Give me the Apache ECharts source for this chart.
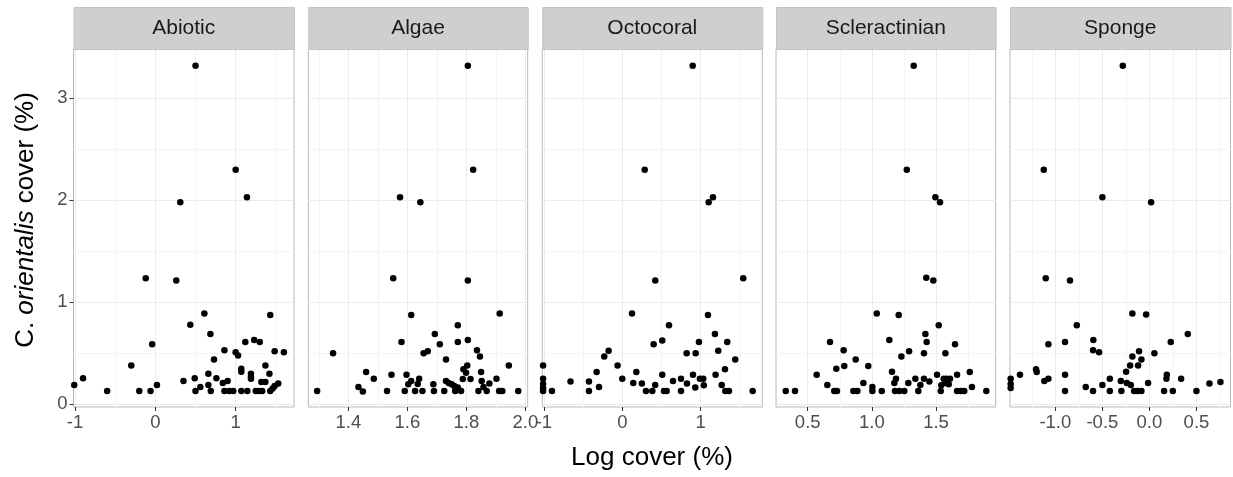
<!DOCTYPE html>
<html>
<head>
<meta charset="utf-8">
<script src="https://cdn.jsdelivr.net/npm/echarts@6/dist/echarts.min.js"></script>
<style>
html,body{margin:0;padding:0;background:#fff;}
#chart{width:1233px;height:477px;}
</style>
</head>
<body>
<div id="chart"></div>
<script>
// ---- data ----
const panels = ['Abiotic', 'Algae', 'Octocoral', 'Scleractinian', 'Sponge'];

const abioticX = [0.50,1.00,1.14,0.31,-0.12,0.26,0.61,1.43,0.435,0.685,-0.04,1.12,1.23,1.30,0.86,1.00,1.03,1.485,1.60,0.73,-0.30,1.37,1.07,1.07,1.19,1.19,1.19,1.42,0.66,-0.90,0.35,0.49,0.76,0.84,0.90,1.32,1.37,-1.01,0.02,0.56,0.66,1.53,1.485,1.46,-0.60,-0.20,-0.06,0.50,0.69,0.86,0.92,0.97,1.07,1.145,1.25,1.29,1.33,1.43];
const abioticY = [3.32,2.30,2.03,1.98,1.235,1.215,0.89,0.875,0.78,0.69,0.59,0.61,0.63,0.61,0.53,0.51,0.48,0.52,0.51,0.44,0.38,0.38,0.35,0.32,0.30,0.27,0.25,0.30,0.30,0.255,0.23,0.255,0.255,0.21,0.23,0.22,0.22,0.19,0.19,0.17,0.19,0.205,0.18,0.155,0.13,0.13,0.13,0.13,0.13,0.13,0.13,0.13,0.13,0.13,0.13,0.13,0.13,0.13];

const algaeX = [1.805,1.823,1.575,1.644,1.552,1.805,1.613,1.913,1.771,1.693,1.71,1.58,1.771,1.805,1.348,1.655,1.669,1.836,1.846,1.731,1.944,1.803,1.79,1.799,1.788,1.814,1.46,1.486,1.546,1.597,1.85,1.902,1.434,1.449,1.294,1.531,1.591,1.603,1.613,1.64,1.635,1.626,1.651,1.688,1.69,1.725,1.731,1.74,1.75,1.759,1.771,1.762,1.782,1.841,1.852,1.858,1.869,1.878,1.911,1.922,1.976];
const algaeY = [3.32,2.30,2.03,1.98,1.235,1.215,0.875,0.89,0.775,0.69,0.59,0.61,0.61,0.63,0.50,0.50,0.52,0.53,0.47,0.44,0.38,0.38,0.343,0.31,0.248,0.248,0.317,0.25,0.29,0.29,0.317,0.25,0.17,0.127,0.13,0.13,0.13,0.196,0.228,0.25,0.2,0.13,0.13,0.196,0.13,0.13,0.228,0.21,0.196,0.18,0.164,0.13,0.13,0.13,0.228,0.17,0.13,0.205,0.13,0.13,0.13];

const octocoralX = [0.898,0.286,1.157,1.102,0.421,1.543,0.124,1.093,0.596,1.182,0.40,0.51,0.978,1.339,-0.174,-0.23,0.821,0.936,1.224,1.441,-0.06,1.31,-1.01,-0.327,0.179,0.51,0.902,1.19,-1.01,-1.01,-1.01,-1.01,-0.66,-0.425,0.0,0.14,0.25,0.42,0.647,0.749,0.825,0.99,1.033,1.04,0.931,1.268,-0.897,-0.425,-0.297,0.302,0.383,0.532,0.566,0.749,1.314,1.361,1.663];
const octocoralY = [3.32,2.30,2.03,1.98,1.215,1.235,0.89,0.875,0.775,0.69,0.59,0.627,0.61,0.61,0.525,0.47,0.50,0.50,0.525,0.44,0.38,0.345,0.38,0.317,0.317,0.29,0.29,0.29,0.25,0.2,0.16,0.13,0.225,0.225,0.25,0.21,0.205,0.19,0.23,0.25,0.205,0.25,0.25,0.186,0.164,0.19,0.13,0.13,0.17,0.13,0.13,0.13,0.13,0.13,0.13,0.13,0.13];

const scleractinianX = [1.326,1.272,1.495,1.531,1.424,1.479,1.038,1.209,1.521,1.417,0.674,1.136,1.427,1.648,0.78,1.29,1.406,1.573,0.874,1.23,0.785,0.723,0.972,0.57,1.157,1.188,1.175,1.284,1.339,1.406,1.448,1.508,1.56,1.583,1.609,1.57,1.599,1.664,1.763,0.934,0.653,1.004,1.378,1.541,1.78,0.329,0.401,0.707,0.728,0.856,0.887,1.004,1.077,1.18,1.214,1.253,1.362,1.537,1.664,1.695,1.72,1.892];
const scleractinianY = [3.32,2.30,2.03,1.98,1.24,1.215,0.89,0.875,0.775,0.69,0.61,0.63,0.61,0.59,0.53,0.52,0.50,0.50,0.44,0.47,0.375,0.35,0.375,0.29,0.32,0.25,0.21,0.21,0.25,0.25,0.225,0.29,0.25,0.25,0.25,0.21,0.196,0.29,0.317,0.21,0.19,0.17,0.19,0.186,0.17,0.13,0.13,0.13,0.13,0.13,0.13,0.13,0.13,0.13,0.13,0.13,0.13,0.13,0.13,0.13,0.13,0.13];

const spongeX = [-0.283,-1.123,-0.50,0.018,-1.102,-0.844,-0.181,-0.035,-0.772,0.408,-1.074,-0.897,-0.596,0.227,-0.599,-0.535,-0.11,-0.181,-0.085,0.053,-0.205,-0.12,-0.248,-1.205,-1.198,-1.376,-0.897,0.185,0.181,0.337,-0.421,-1.074,-1.117,-1.475,-1.475,-1.475,-0.304,-0.24,-0.198,-0.014,-0.50,-0.677,0.638,0.755,-0.897,-0.599,-0.421,-0.298,-0.163,-0.127,-0.085,0.156,0.249,0.5];
const spongeY = [3.32,2.30,2.03,1.98,1.235,1.215,0.89,0.88,0.775,0.69,0.59,0.61,0.63,0.61,0.53,0.51,0.52,0.47,0.44,0.50,0.38,0.38,0.32,0.345,0.317,0.29,0.29,0.29,0.25,0.25,0.25,0.25,0.23,0.25,0.2,0.16,0.23,0.21,0.19,0.21,0.19,0.17,0.205,0.22,0.13,0.13,0.13,0.13,0.13,0.13,0.13,0.13,0.13,0.13];

const panelX = [abioticX, algaeX, octocoralX, scleractinianX, spongeX];
const panelY = [abioticY, algaeY, octocoralY, scleractinianY, spongeY];

// tick positions and labels
const xMajorTicks = [[-1,0,1],[1.4,1.6,1.8,2.0],[-1,0,1],[0.5,1.0,1.5],[-1.0,-0.5,0.0,0.5]];
const xTickLabels = [['-1','0','1'],['1.4','1.6','1.8','2.0'],['-1','0','1'],['0.5','1.0','1.5'],['-1.0','-0.5','0.0','0.5']];
const xMinorTicks = [[-0.5,0.5,1.5],[1.3,1.5,1.7,1.9],[-0.5,0.5,1.5],[0.75,1.25,1.75],[-1.25,-0.75,-0.25,0.25,0.75]];
const xLimits = [[-1.019,1.726],[1.264,2.008],[-1.02,1.786],[0.253,1.965],[-1.482,0.862]];
const yMajorTicks = [0,1,2,3];
const yTickLabels = ['0','1','2','3'];
const yMinorTicks = [0.5,1.5,2.5];
const yLimits = [-0.026,3.483];

const xTitle = 'Log cover (%)';

// ---- layout ----
const FONT = '"Liberation Sans", Arial, sans-serif';
const gridLeft = [73.5, 308.3, 542.3, 776, 1010];
const gridWidth = [220.5, 219.4, 220, 219.7, 220.5];
const gridTop = 49, gridHeight = 358;

const chart = echarts.init(document.getElementById('chart'), null, {renderer: 'canvas'});

const grids = [], xAxes = [], yAxes = [], series = [], graphics = [];
panels.forEach((name, i) => {
  grids.push({left: gridLeft[i], top: gridTop, width: gridWidth[i], height: gridHeight,
    show: true, borderColor: '#b8b8b8', borderWidth: 1, backgroundColor: '#ffffff', z: 0});
  // minor x grid
  xAxes.push({gridIndex: i, type: 'value', min: xLimits[i][0], max: xLimits[i][1], position: 'top',
    axisLine: {show: false, onZero: false}, axisTick: {show: false, customValues: xMinorTicks[i]},
    axisLabel: {show: false}, splitLine: {show: true, lineStyle: {color: '#f4f4f4', width: 1}}});
  // major x axis
  xAxes.push({gridIndex: i, type: 'value', min: xLimits[i][0], max: xLimits[i][1], position: 'bottom',
    axisLine: {show: false, onZero: false},
    axisTick: {show: true, length: 4, lineStyle: {color: '#333333', width: 1}, customValues: xMajorTicks[i]},
    axisLabel: {show: true, customValues: xMajorTicks[i], fontSize: 18.5, fontFamily: FONT, color: '#4d4d4d', margin: 6,
      formatter: (v) => { const k = xMajorTicks[i].findIndex(t => Math.abs(t - v) < 1e-6); return k >= 0 ? xTickLabels[i][k] : ''; }},
    splitLine: {show: true, lineStyle: {color: '#ebebeb', width: 1}}});
  // minor y grid
  yAxes.push({gridIndex: i, type: 'value', min: yLimits[0], max: yLimits[1], position: 'right',
    axisLine: {show: false, onZero: false}, axisTick: {show: false, customValues: yMinorTicks},
    axisLabel: {show: false}, splitLine: {show: true, lineStyle: {color: '#f4f4f4', width: 1}}});
  // major y axis
  yAxes.push({gridIndex: i, type: 'value', min: yLimits[0], max: yLimits[1], position: 'left',
    axisLine: {show: false, onZero: false},
    axisTick: {show: i === 0, length: 4, lineStyle: {color: '#333333', width: 1}, customValues: yMajorTicks},
    axisLabel: {show: i === 0, customValues: yMajorTicks, fontSize: 18.5, fontFamily: FONT, color: '#4d4d4d', margin: 6,
      formatter: (v) => { const k = yMajorTicks.findIndex(t => Math.abs(t - v) < 1e-6); return k >= 0 ? yTickLabels[k] : ''; }},
    splitLine: {show: true, lineStyle: {color: '#ebebeb', width: 1}}});
  series.push({type: 'scatter', xAxisIndex: 2 * i + 1, yAxisIndex: 2 * i + 1,
    symbol: 'circle', symbolSize: 6.5, itemStyle: {color: '#000000', opacity: 1}, z: 5, silent: true,
    data: panelX[i].map((x, k) => [x, panelY[i][k]])});
  graphics.push({type: 'rect', left: gridLeft[i], top: 7, z: 10,
    shape: {width: gridWidth[i], height: 42},
    style: {fill: '#cfcfcf', stroke: '#c4c4c4', lineWidth: 1}});
  graphics.push({type: 'text', x: gridLeft[i] + gridWidth[i] / 2, y: 28.5, z: 11,
    style: {text: name, font: '21px ' + FONT, fill: '#1a1a1a', align: 'center', verticalAlign: 'middle'}});
});

graphics.push({type: 'text', x: 652, y: 458, z: 11,
  style: {text: xTitle, font: '26px ' + FONT, fill: '#000000', align: 'center', verticalAlign: 'middle'}});
graphics.push({type: 'text', x: 26, y: 220, rotation: Math.PI / 2, z: 11,
  style: {text: '{n|C. }{i|orientalis}{n| cover (%)}', align: 'center', verticalAlign: 'middle',
    rich: {n: {fontSize: 26, fontFamily: FONT, fill: '#000000', color: '#000000'},
           i: {fontSize: 26, fontFamily: FONT, fontStyle: 'italic', fill: '#000000', color: '#000000'}}}});

chart.setOption({
  animation: false,
  backgroundColor: '#ffffff',
  grid: grids,
  xAxis: xAxes,
  yAxis: yAxes,
  series: series,
  graphic: graphics
});
</script>
</body>
</html>
